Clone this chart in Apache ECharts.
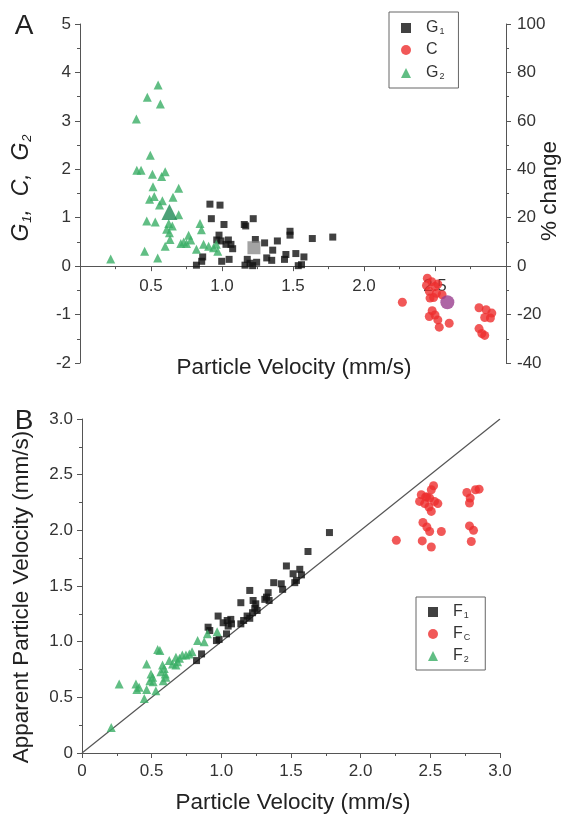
<!DOCTYPE html>
<html><head><meta charset="utf-8">
<script src="https://cdn.jsdelivr.net/npm/echarts@6/dist/echarts.min.js"></script>
<style>html,body{margin:0;padding:0;background:#fff}#c{width:565px;height:815px}</style>
</head><body><div id="c"></div>
<script>
// ---- Panel A data: particle velocity (mm/s) vs G1 / C / G2 ----
const g1Points = [[0.915,1.28],[0.986,1.26],[0.925,0.98],[1.014,0.86],[1.157,0.86],[1.167,0.83],[1.22,0.98],[0.979,0.64],[0.963,0.54],[0.993,0.52],[1.045,0.54],[1.063,0.45],[1.075,0.36],[1.028,0.45],[1.235,0.55],[1.30,0.48],[1.39,0.52],[1.479,0.72],[1.479,0.64],[1.636,0.57],[1.78,0.60],[0.864,0.19],[0.857,0.10],[0.82,0.02],[0.998,0.10],[1.05,0.14],[1.178,0.14],[1.197,0.06],[1.244,0.08],[1.162,0.02],[1.216,0.01],[1.357,0.33],[1.315,0.17],[1.35,0.12],[1.45,0.24],[1.44,0.14],[1.52,0.26],[1.577,0.19],[1.56,0.03],[1.537,0.01]];
const g1Mean = [[1.225,0.38]];
const cPoints = [[2.27,-0.745],[2.446,-0.25],[2.477,-0.32],[2.44,-0.40],[2.5,-0.42],[2.52,-0.37],[2.46,-0.52],[2.51,-0.56],[2.49,-0.65],[2.55,-0.59],[2.465,-0.66],[2.48,-0.92],[2.46,-1.04],[2.5,-1.01],[2.52,-1.11],[2.53,-1.26],[2.60,-1.18],[2.81,-0.86],[2.86,-0.90],[2.90,-0.97],[2.89,-1.07],[2.85,-1.06],[2.81,-1.29],[2.83,-1.39],[2.85,-1.43]];
const cMean = [[2.587,-0.745]];
const g2Points = [[0.55,3.74],[0.474,3.49],[0.566,3.35],[0.397,3.04],[0.495,2.29],[0.40,1.98],[0.43,1.98],[0.51,1.90],[0.60,1.95],[0.575,1.85],[0.514,1.64],[0.695,1.61],[0.523,1.44],[0.49,1.38],[0.58,1.35],[0.56,1.26],[0.655,1.42],[0.695,1.06],[0.47,0.93],[0.53,0.91],[0.625,0.88],[0.65,0.83],[0.61,0.76],[0.63,0.69],[0.634,0.55],[0.845,0.88],[0.855,0.75],[0.765,0.64],[0.78,0.54],[0.73,0.50],[0.75,0.47],[0.71,0.47],[0.82,0.35],[0.87,0.45],[0.906,0.41],[0.94,0.38],[0.96,0.45],[0.97,0.31],[0.455,0.31],[0.60,0.41],[0.547,0.17],[0.216,0.15]];
const g2Mean = [[0.63,1.12]];

// ---- Panel B data: particle velocity vs apparent particle velocity ----
const f1Points = [[1.776,1.98],[1.622,1.81],[1.467,1.68],[1.563,1.65],[1.515,1.61],[1.575,1.60],[1.539,1.55],[1.527,1.53],[1.376,1.53],[1.43,1.52],[1.44,1.47],[1.204,1.46],[1.336,1.44],[1.324,1.40],[1.343,1.37],[1.312,1.38],[1.14,1.35],[1.228,1.37],[1.247,1.34],[1.24,1.30],[1.257,1.28],[1.224,1.26],[1.185,1.23],[1.204,1.21],[0.977,1.23],[1.013,1.17],[1.042,1.19],[1.068,1.20],[1.049,1.14],[1.073,1.16],[0.905,1.13],[0.917,1.10],[1.14,1.16],[1.16,1.19],[0.984,1.02],[0.965,1.01],[1.037,1.07],[0.858,0.89],[0.822,0.83]];
const fcPoints = [[2.523,2.40],[2.507,2.365],[2.435,2.32],[2.466,2.30],[2.495,2.29],[2.423,2.26],[2.53,2.26],[2.554,2.24],[2.459,2.24],[2.49,2.21],[2.507,2.17],[2.476,2.30],[2.447,2.07],[2.475,2.03],[2.495,1.99],[2.579,1.99],[2.256,1.91],[2.442,1.905],[2.507,1.85],[2.762,2.34],[2.824,2.365],[2.786,2.29],[2.781,2.245],[2.85,2.37],[2.781,2.04],[2.81,2.0],[2.794,1.90]];
const f2Points = [[0.21,0.23],[0.267,0.62],[0.543,0.93],[0.559,0.92],[0.464,0.80],[0.387,0.62],[0.394,0.57],[0.41,0.59],[0.464,0.57],[0.447,0.49],[0.495,0.71],[0.507,0.68],[0.487,0.65],[0.511,0.64],[0.53,0.56],[0.578,0.79],[0.59,0.76],[0.566,0.73],[0.597,0.71],[0.583,0.65],[0.602,0.68],[0.626,0.83],[0.65,0.80],[0.674,0.86],[0.70,0.85],[0.686,0.82],[0.72,0.88],[0.674,0.79],[0.746,0.88],[0.77,0.89],[0.79,0.91],[0.83,1.01],[0.877,1.0],[0.90,1.07],[0.97,1.09]];
const identityLine = [[0,0],[3,3]];

// axis ranges / ticks
const axA_x = {min:0, max:3, interval:0.5};
const axA_y = {min:-2, max:5, interval:1};
const axA_pct = {min:-40, max:100, interval:20};
const axB = {min:0, max:3, interval:0.5};

const FONT = 'Liberation Sans, Arial, Helvetica, sans-serif';
const TXT = '#333';
const LINE = '#555';
const LBL = 17;

function axisBase(extra){
  return Object.assign({
    type:'value', splitLine:{show:false},
    axisLine:{show:true, lineStyle:{color:LINE, width:1}},
    axisTick:{show:true, inside:false, length:5, lineStyle:{color:LINE}},
    minorTick:{show:true, splitNumber:2, length:3, lineStyle:{color:LINE}},
    axisLabel:{color:TXT, fontSize:LBL, fontFamily:FONT, margin:9}
  }, extra);
}

const chart = echarts.init(document.getElementById('c'), null, {renderer:'canvas'});
const legendRich = {
  n:{fontSize:16, fontFamily:FONT, color:TXT, lineHeight:16, padding:[0,0,0,10]},
  s:{fontSize:9, fontFamily:FONT, color:TXT, verticalAlign:'bottom', lineHeight:16, padding:[8,0,0,1]}
};
const legendNames = {G1:'{n|G}{s|1}', C:'{n|C}', G2:'{n|G}{s|2}', F1:'{n|F}{s|1}', FC:'{n|F}{s|C}', F2:'{n|F}{s|2}'};

const BLACK='#111111', RED='#ee2e2e', GREEN='#3aae65';
const GRID_A = {left:80, top:24, width:426, height:339};
// distance from the zero line of panel A to the bottom of grid A
const zeroOffset = GRID_A.height * (0 - axA_y.min) / (axA_y.max - axA_y.min);

chart.setOption({
  animation:false,
  grid:[
    GRID_A,
    {left:82, top:419, width:418, height:334}
  ],
  xAxis:[
    axisBase({gridIndex:0, min:axA_x.min, max:axA_x.max, interval:axA_x.interval,
      axisLine:{show:true, onZero:true, onZeroAxisIndex:0, lineStyle:{color:LINE}},
      axisLabel:{color:TXT, fontSize:LBL, fontFamily:FONT, margin:12 - zeroOffset,
        formatter:v=> (v===0||v===3)?'':v.toFixed(1)}}),
    axisBase({gridIndex:1, min:axB.min, max:axB.max, interval:axB.interval,
      axisLabel:{color:TXT, fontSize:LBL, fontFamily:FONT, margin:10,
        formatter:v=> v===0?'0':v.toFixed(1)}})
  ],
  yAxis:[
    axisBase({gridIndex:0, min:axA_y.min, max:axA_y.max, interval:axA_y.interval,
      axisLine:{show:true, onZero:false, lineStyle:{color:LINE}}}),
    axisBase({gridIndex:0, position:'right', min:axA_pct.min, max:axA_pct.max, interval:axA_pct.interval,
      axisLine:{show:true, onZero:false, lineStyle:{color:LINE}},
      axisLabel:{color:TXT, fontSize:LBL, fontFamily:FONT, margin:11}}),
    axisBase({gridIndex:1, min:axB.min, max:axB.max, interval:axB.interval,
      axisLine:{show:true, onZero:false, lineStyle:{color:LINE}},
      axisLabel:{color:TXT, fontSize:LBL, fontFamily:FONT, margin:9,
        formatter:v=> v===0?'0':v.toFixed(1)}})
  ],
  legend:[
    {data:['G1','C','G2'], orient:'vertical', left:389, top:12, itemWidth:10, itemHeight:10, itemGap:6,
     padding:[7,14,7,12], borderColor:'#666', borderWidth:1,
     formatter:n=>legendNames[n], textStyle:{rich:legendRich}},
    {data:['F1','FC','F2'], orient:'vertical', left:416, top:597, itemWidth:10, itemHeight:10, itemGap:5,
     padding:[6,15,6,12], borderColor:'#666', borderWidth:1,
     formatter:n=>legendNames[n], textStyle:{rich:legendRich}}
  ],
  series:[
    {name:'G1', type:'scatter', xAxisIndex:0, yAxisIndex:0, symbol:'rect', symbolSize:7, itemStyle:{color:BLACK}, data:g1Points, z:3},
    {name:'C', type:'scatter', xAxisIndex:0, yAxisIndex:0, symbol:'circle', symbolSize:9, itemStyle:{color:RED}, data:cPoints, z:3},
    {name:'G2', type:'scatter', xAxisIndex:0, yAxisIndex:0, symbol:'triangle', symbolSize:9, itemStyle:{color:GREEN}, data:g2Points, z:3},
    {name:'G1 mean', type:'scatter', xAxisIndex:0, yAxisIndex:0, symbol:'rect', symbolSize:13, itemStyle:{color:'#8c8c8c'}, data:g1Mean, z:4},
    {name:'C mean', type:'scatter', xAxisIndex:0, yAxisIndex:0, symbol:'circle', symbolSize:14, itemStyle:{color:'#9a3f8e'}, data:cMean, z:4},
    {name:'G2 mean', type:'scatter', xAxisIndex:0, yAxisIndex:0, symbol:'triangle', symbolSize:16, itemStyle:{color:'#1f8a55'}, data:g2Mean, z:4},
    {name:'%', type:'scatter', xAxisIndex:0, yAxisIndex:1, data:[], silent:true},
    {name:'identity', type:'line', xAxisIndex:1, yAxisIndex:2, data:identityLine, symbol:'none', lineStyle:{color:'#555', width:1.2}, z:1, silent:true},
    {name:'F1', type:'scatter', xAxisIndex:1, yAxisIndex:2, symbol:'rect', symbolSize:7, itemStyle:{color:BLACK}, data:f1Points, z:3},
    {name:'FC', type:'scatter', xAxisIndex:1, yAxisIndex:2, symbol:'circle', symbolSize:9, itemStyle:{color:RED}, data:fcPoints, z:3},
    {name:'F2', type:'scatter', xAxisIndex:1, yAxisIndex:2, symbol:'triangle', symbolSize:9, itemStyle:{color:GREEN}, data:f2Points, z:3}
  ],
  graphic:[
    {type:'text', x:24, y:26, style:{text:'A', font:'28px '+FONT, fill:'#222', align:'center', verticalAlign:'middle'}},
    {type:'text', x:24, y:421, style:{text:'B', font:'28px '+FONT, fill:'#222', align:'center', verticalAlign:'middle'}},
    {type:'text', x:22, y:188, rotation:Math.PI/2, style:{
      text:'{i|G}{s|1}{i|,  C,  G}{s|2}', align:'center', verticalAlign:'middle',
      rich:{i:{font:'italic 23px '+FONT, fill:'#222', lineHeight:24}, s:{font:'italic 13px '+FONT, fill:'#222', verticalAlign:'bottom', lineHeight:24, padding:[11,0,0,1]}}}},
    {type:'text', x:550, y:191, rotation:Math.PI/2, style:{text:'% change', font:'22.5px '+FONT, fill:'#222', align:'center', verticalAlign:'middle'}},
    {type:'text', x:294, y:368, style:{text:'Particle Velocity (mm/s)', font:'22.5px '+FONT, fill:'#222', align:'center', verticalAlign:'middle'}},
    {type:'text', x:22, y:597, rotation:Math.PI/2, style:{text:'Apparent Particle Velocity (mm/s)', font:'22.5px '+FONT, fill:'#222', align:'center', verticalAlign:'middle'}},
    {type:'text', x:293, y:803, style:{text:'Particle Velocity (mm/s)', font:'22.5px '+FONT, fill:'#222', align:'center', verticalAlign:'middle'}}
  ]
});
</script></body></html>
